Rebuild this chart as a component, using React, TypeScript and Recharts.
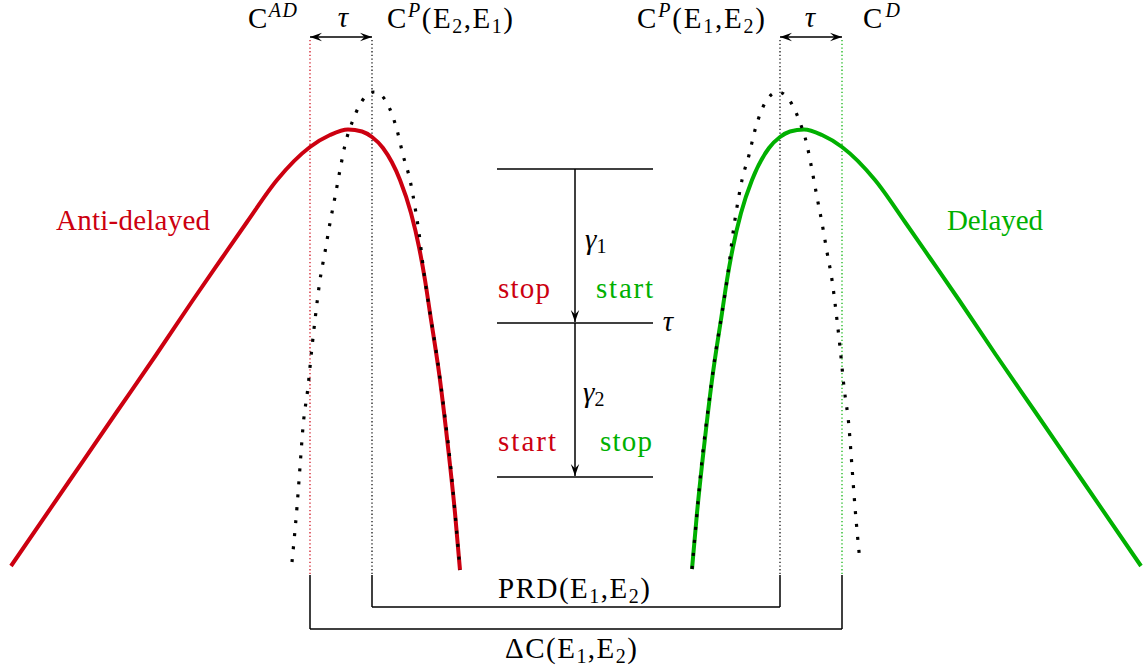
import React from 'react';
import { ComposedChart, Line, XAxis, YAxis, ReferenceLine } from 'recharts';

// time-spectrum sketch: x = time (arb.), y = counts measured downward from the top
const antiDelayed: [number, number][] = [
  [11, 566], [70, 480], [116, 413], [156, 355], [193, 300], [222, 258], [247, 222], [277, 180],
  [310, 147], [330, 135], [348, 129.5], [362, 131.5], [372, 137], [383, 148], [400, 180], [411, 213],
  [419, 247], [425, 280], [430, 313], [440, 380], [448, 447], [455, 513], [460, 570],
];

const delayed: [number, number][] = [
  [692, 569], [697, 513], [704, 447], [712, 380], [722, 313], [727, 280], [733, 247], [741, 213],
  [752, 180], [769, 148], [780, 137], [790, 131.5], [804, 129.5], [822, 135], [842, 147], [875, 180],
  [905, 222], [930, 258], [959, 300], [996, 355], [1036, 413], [1082, 480], [1141, 566],
];

const promptE2E1: [number, number][] = [
  [292, 562], [297, 507], [300, 467], [303, 427], [308, 387], [312, 347], [315, 320], [320, 280],
  [325, 252], [330, 223], [335, 197], [340, 170], [345, 145], [353, 120], [365, 97], [374, 92],
  [381, 95], [387, 103], [397, 130], [403, 155], [410, 180], [415, 207], [419, 233], [424, 273],
  [430, 313], [437, 357], [444, 410], [450, 460], [455, 513], [460, 570],
];

const promptE1E2: [number, number][] = [
  [692, 569], [697, 513], [702, 460], [708, 410], [715, 357], [722, 313], [728, 273], [733, 233],
  [737, 207], [742, 180], [749, 155], [755, 130], [765, 103], [771, 95], [778, 92], [787, 97],
  [799, 120], [807, 145], [812, 170], [817, 197], [822, 223], [827, 252], [832, 280], [837, 320],
  [840, 347], [844, 387], [849, 427], [852, 467], [855, 507], [860, 562],
];

// centroid positions: C^AD, C^P(E2,E1), C^P(E1,E2), C^D
const centroids = [310, 372, 780, 842];
// level scheme: level heights and the transition column
const levels = [169, 323, 477];
const transitionX = 575;

const RED = '#cc0010';
const GREEN = '#00b000';
const W = 1146;
const H = 668;
const FONT = "'Liberation Serif', 'DejaVu Serif', serif";

const toPts = (arr: [number, number][]) => arr.map(([x, y]) => ({ x, y }));

function head(tx: number, ty: number, ang: number) {
  const dx = Math.cos(ang);
  const dy = Math.sin(ang);
  const px = -dy;
  const py = dx;
  const L = 12;
  const Wd = 4.2;
  const bx = tx - L * dx;
  const by = ty - L * dy;
  const nx = tx - 7.5 * dx;
  const ny = ty - 7.5 * dy;
  return (
    <path
      d={`M${tx},${ty} L${bx + Wd * px},${by + Wd * py} L${nx},${ny} L${bx - Wd * px},${by - Wd * py} Z`}
      fill="#000"
    />
  );
}

const arrowShape = (both: boolean) => (props: any) => {
  const { x1, y1, x2, y2 } = props;
  const ang = Math.atan2(y2 - y1, x2 - x1);
  return (
    <g>
      <line x1={x1} y1={y1} x2={x2} y2={y2} stroke="#000" strokeWidth={1.5} />
      {both && head(x1, y1, ang + Math.PI)}
      {head(x2, y2, ang)}
    </g>
  );
};

const seg = (x1: number, y1: number, x2: number, y2: number) => [
  { x: x1, y: y1 },
  { x: x2, y: y2 },
];

// (E_a,E_b) with subscripts; lift undoes a preceding superscript shift
const pair = (a: string, b: string, lift = 0) => (
  <>
    <tspan dy={lift}>(E</tspan>
    <tspan fontSize={20} dy={5}>{a}</tspan>
    <tspan dy={-5}>,E</tspan>
    <tspan fontSize={20} dy={5}>{b}</tspan>
    <tspan dy={-5}>)</tspan>
  </>
);

export default function App() {
  const guideColor = [RED, '#000', '#000', GREEN];
  return (
    <div style={{ position: 'absolute', left: 0, top: 0, width: W, height: H, background: '#fff', fontFamily: FONT }}>
      <ComposedChart width={W} height={H} margin={{ top: 0, right: 0, bottom: 0, left: 0 }}>
        <XAxis type="number" dataKey="x" domain={[0, W]} hide allowDataOverflow />
        <YAxis type="number" dataKey="y" domain={[0, H]} reversed hide allowDataOverflow />

        {centroids.map((cx, i) => (
          <ReferenceLine
            key={`g${i}`}
            segment={seg(cx, 40, cx, 575)}
            stroke={guideColor[i]}
            strokeWidth={1.2}
            strokeDasharray="1.3 2.4"
          />
        ))}

        {/* tau arrows between centroids */}
        <ReferenceLine segment={seg(centroids[0], 37, centroids[1], 37)} shape={arrowShape(true)} />
        <ReferenceLine segment={seg(centroids[2], 37, centroids[3], 37)} shape={arrowShape(true)} />

        {/* PRD and ΔC brackets */}
        <ReferenceLine segment={seg(centroids[1], 575, centroids[1], 607)} stroke="#000" strokeWidth={1.5} />
        <ReferenceLine segment={seg(centroids[1], 607, centroids[2], 607)} stroke="#000" strokeWidth={1.5} />
        <ReferenceLine segment={seg(centroids[2], 575, centroids[2], 607)} stroke="#000" strokeWidth={1.5} />
        <ReferenceLine segment={seg(centroids[0], 575, centroids[0], 629)} stroke="#000" strokeWidth={1.5} />
        <ReferenceLine segment={seg(centroids[0], 629, centroids[3], 629)} stroke="#000" strokeWidth={1.5} />
        <ReferenceLine segment={seg(centroids[3], 575, centroids[3], 629)} stroke="#000" strokeWidth={1.5} />

        {/* level scheme */}
        {levels.map((ly, i) => (
          <ReferenceLine key={`l${i}`} segment={seg(497, ly, 653, ly)} stroke="#000" strokeWidth={1.5} />
        ))}
        <ReferenceLine segment={seg(transitionX, levels[0], transitionX, levels[1] - 1)} shape={arrowShape(false)} />
        <ReferenceLine segment={seg(transitionX, levels[1], transitionX, levels[2] - 1)} shape={arrowShape(false)} />

        <Line data={toPts(antiDelayed)} dataKey="y" type="monotone" stroke={RED} strokeWidth={4} dot={false} activeDot={false} isAnimationActive={false} />
        <Line data={toPts(delayed)} dataKey="y" type="monotone" stroke={GREEN} strokeWidth={4} dot={false} activeDot={false} isAnimationActive={false} />
        <Line data={toPts(promptE2E1)} dataKey="y" type="monotone" stroke="#000" strokeWidth={3.2} strokeDasharray="3 10" dot={false} activeDot={false} isAnimationActive={false} />
        <Line data={toPts(promptE1E2)} dataKey="y" type="monotone" stroke="#000" strokeWidth={3.2} strokeDasharray="3 10" dot={false} activeDot={false} isAnimationActive={false} />
      </ComposedChart>

      <svg width={W} height={H} style={{ position: 'absolute', left: 0, top: 0, pointerEvents: 'none', fontFamily: FONT }}>
        <g fontSize={29} fill="#000">
          <text x={248} y={28} textLength={49} lengthAdjust="spacing">C<tspan fontSize={20} fontStyle="italic" dy={-11}>AD</tspan></text>
          <text x={387} y={28} textLength={126} lengthAdjust="spacing">C<tspan fontSize={20} fontStyle="italic" dy={-11}>P</tspan>{pair('2', '1', 11)}</text>
          <text x={637} y={28} textLength={128} lengthAdjust="spacing">C<tspan fontSize={20} fontStyle="italic" dy={-11}>P</tspan>{pair('1', '2', 11)}</text>
          <text x={863} y={28} textLength={37} lengthAdjust="spacing">C<tspan fontSize={20} fontStyle="italic" dy={-11}>D</tspan></text>
          <text x={343} y={27} textAnchor="middle" fontStyle="italic">τ</text>
          <text x={810} y={27} textAnchor="middle" fontStyle="italic">τ</text>
          <text x={668} y={331} textAnchor="middle" fontStyle="italic">τ</text>
          <text x={585} y={249} fontStyle="italic">γ<tspan fontStyle="normal" fontSize={20} dy={4}>1</tspan></text>
          <text x={583} y={402} fontStyle="italic">γ<tspan fontStyle="normal" fontSize={20} dy={4}>2</tspan></text>
          <text x={498} y={598} textLength={152} lengthAdjust="spacing">PRD{pair('1', '2')}</text>
          <text x={505} y={658} textLength={132} lengthAdjust="spacing">ΔC{pair('1', '2')}</text>
        </g>
        <g fontSize={29}>
          <text x={56} y={230} fill={RED} textLength={154} lengthAdjust="spacing">Anti-delayed</text>
          <text x={947} y={230} fill={GREEN} textLength={96} lengthAdjust="spacing">Delayed</text>
          <text x={498} y={298} fill={RED} textLength={52} lengthAdjust="spacing">stop</text>
          <text x={596} y={298} fill={GREEN} textLength={57} lengthAdjust="spacing">start</text>
          <text x={498} y={451} fill={RED} textLength={58} lengthAdjust="spacing">start</text>
          <text x={600} y={451} fill={GREEN} textLength={52} lengthAdjust="spacing">stop</text>
        </g>
      </svg>
    </div>
  );
}
